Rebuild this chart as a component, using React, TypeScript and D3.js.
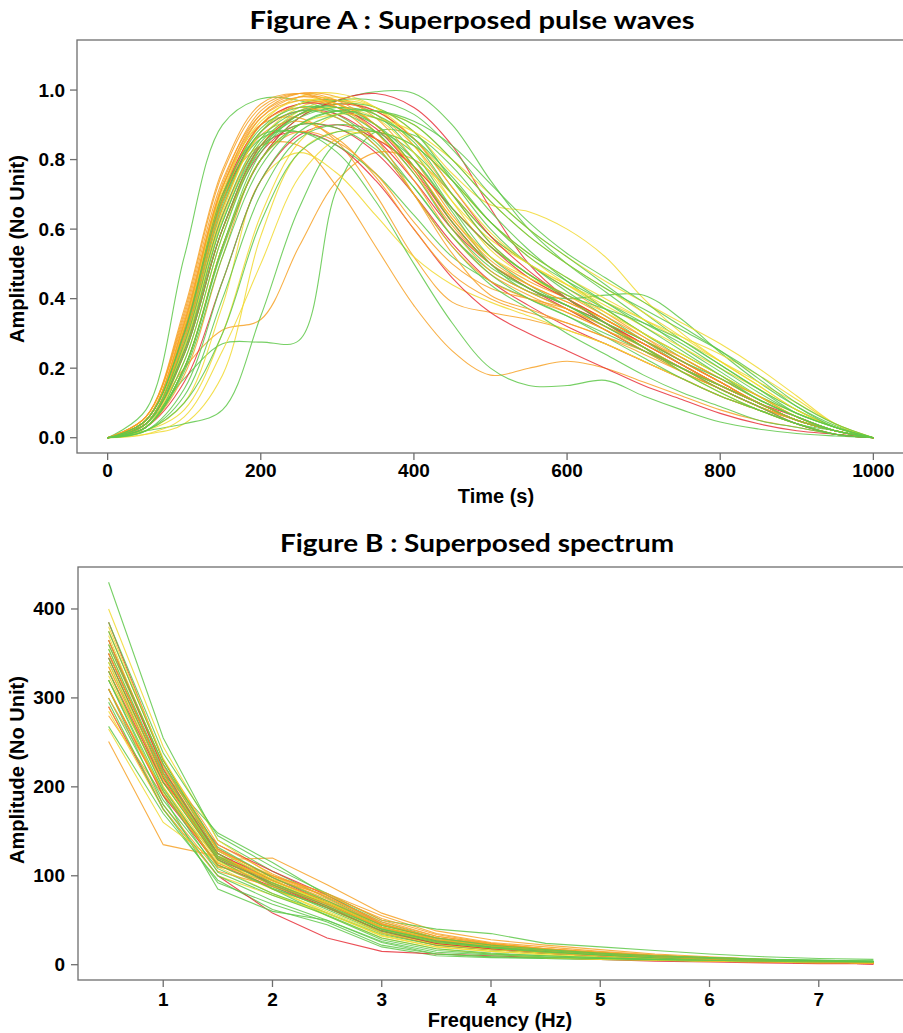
import React from 'react'
import * as d3 from 'd3'

// Figure A: pulse waves, sampled every 50 s
const pulseTime = [0, 50, 100, 150, 200, 250, 300, 350, 400, 450, 500, 550, 600, 650, 700, 750, 800, 850, 900, 950, 1000]

const greenPulses = [
  [0, 0.08, 0.52, 0.9, 0.975, 0.97, 0.93, 0.85, 0.72, 0.58, 0.48, 0.42, 0.37, 0.31, 0.25, 0.19, 0.14, 0.09, 0.05, 0.02, 0],
  [0, 0.03, 0.2, 0.55, 0.8, 0.92, 0.97, 0.995, 0.99, 0.9, 0.74, 0.6, 0.5, 0.42, 0.34, 0.26, 0.19, 0.12, 0.06, 0.02, 0],
  [0, 0.04, 0.17, 0.27, 0.275, 0.28, 0.72, 0.88, 0.87, 0.78, 0.65, 0.54, 0.45, 0.37, 0.3, 0.23, 0.17, 0.11, 0.06, 0.02, 0],
  [0, 0.02, 0.04, 0.08, 0.35, 0.66, 0.85, 0.88, 0.82, 0.7, 0.58, 0.5, 0.42, 0.35, 0.28, 0.21, 0.15, 0.1, 0.05, 0.02, 0],
  [0, 0.04, 0.26, 0.62, 0.85, 0.93, 0.94, 0.9, 0.8, 0.65, 0.5, 0.42, 0.4, 0.41, 0.41, 0.34, 0.245, 0.16, 0.09, 0.035, 0],
  [0, 0.05, 0.3, 0.68, 0.86, 0.88, 0.82, 0.68, 0.5, 0.33, 0.2, 0.15, 0.15, 0.165, 0.12, 0.08, 0.045, 0.025, 0.012, 0.005, 0],
  [0, 0.04, 0.28, 0.66, 0.88, 0.96, 0.97, 0.93, 0.82, 0.66, 0.52, 0.44, 0.38, 0.32, 0.26, 0.2, 0.15, 0.1, 0.05, 0.02, 0],
  [0, 0.03, 0.22, 0.58, 0.83, 0.93, 0.96, 0.95, 0.88, 0.74, 0.6, 0.5, 0.43, 0.37, 0.3, 0.24, 0.18, 0.12, 0.07, 0.03, 0],
  [0, 0.05, 0.3, 0.7, 0.87, 0.88, 0.84, 0.76, 0.64, 0.52, 0.45, 0.4, 0.35, 0.29, 0.23, 0.17, 0.12, 0.08, 0.04, 0.01, 0],
  [0, 0.03, 0.2, 0.55, 0.82, 0.93, 0.97, 0.97, 0.93, 0.83, 0.7, 0.6, 0.52, 0.44, 0.36, 0.28, 0.21, 0.14, 0.08, 0.03, 0],
  [0, 0.04, 0.25, 0.62, 0.84, 0.92, 0.95, 0.93, 0.85, 0.7, 0.56, 0.47, 0.41, 0.37, 0.33, 0.28, 0.21, 0.14, 0.07, 0.03, 0],
  [0, 0.02, 0.12, 0.4, 0.7, 0.86, 0.9, 0.88, 0.8, 0.66, 0.55, 0.47, 0.4, 0.33, 0.26, 0.19, 0.13, 0.08, 0.04, 0.01, 0],
  [0, 0.05, 0.29, 0.67, 0.88, 0.94, 0.92, 0.84, 0.7, 0.55, 0.44, 0.37, 0.3, 0.24, 0.18, 0.13, 0.09, 0.05, 0.03, 0.01, 0],
  [0, 0.03, 0.2, 0.54, 0.8, 0.9, 0.94, 0.94, 0.9, 0.8, 0.68, 0.58, 0.5, 0.43, 0.37, 0.31, 0.25, 0.18, 0.1, 0.04, 0],
  [0, 0.02, 0.1, 0.3, 0.62, 0.82, 0.88, 0.88, 0.84, 0.74, 0.62, 0.53, 0.46, 0.39, 0.32, 0.25, 0.18, 0.11, 0.06, 0.02, 0],
  [0, 0.04, 0.27, 0.64, 0.86, 0.94, 0.95, 0.9, 0.78, 0.62, 0.5, 0.43, 0.38, 0.33, 0.28, 0.22, 0.17, 0.11, 0.06, 0.02, 0],
  [0, 0.05, 0.3, 0.69, 0.89, 0.95, 0.94, 0.88, 0.76, 0.6, 0.49, 0.43, 0.38, 0.32, 0.26, 0.2, 0.15, 0.1, 0.05, 0.02, 0],
  [0, 0.03, 0.19, 0.52, 0.78, 0.9, 0.94, 0.92, 0.86, 0.75, 0.62, 0.52, 0.45, 0.39, 0.33, 0.27, 0.2, 0.13, 0.07, 0.03, 0],
  [0, 0.04, 0.24, 0.6, 0.83, 0.9, 0.89, 0.83, 0.72, 0.58, 0.47, 0.4, 0.35, 0.3, 0.25, 0.2, 0.14, 0.09, 0.04, 0.02, 0],
  [0, 0.02, 0.14, 0.45, 0.74, 0.88, 0.93, 0.94, 0.91, 0.84, 0.73, 0.62, 0.53, 0.46, 0.39, 0.32, 0.25, 0.17, 0.09, 0.03, 0],
]

const yellowPulses = [
  [0, 0.01, 0.04, 0.18, 0.58, 0.82, 0.88, 0.86, 0.78, 0.66, 0.55, 0.47, 0.4, 0.33, 0.26, 0.19, 0.13, 0.08, 0.04, 0.01, 0],
  [0, 0.03, 0.22, 0.58, 0.84, 0.94, 0.97, 0.95, 0.88, 0.76, 0.67, 0.65, 0.6, 0.52, 0.4, 0.3, 0.22, 0.15, 0.08, 0.03, 0],
  [0, 0.05, 0.3, 0.68, 0.9, 0.98, 0.99, 0.95, 0.84, 0.68, 0.54, 0.46, 0.4, 0.34, 0.28, 0.22, 0.16, 0.1, 0.05, 0.02, 0],
  [0, 0.02, 0.1, 0.38, 0.74, 0.82, 0.76, 0.64, 0.52, 0.44, 0.39, 0.35, 0.31, 0.27, 0.22, 0.17, 0.12, 0.08, 0.04, 0.01, 0],
  [0, 0.04, 0.26, 0.63, 0.86, 0.95, 0.97, 0.94, 0.86, 0.74, 0.62, 0.53, 0.46, 0.4, 0.34, 0.28, 0.22, 0.16, 0.1, 0.04, 0],
  [0, 0.01, 0.06, 0.25, 0.5, 0.75, 0.86, 0.88, 0.84, 0.74, 0.62, 0.52, 0.44, 0.37, 0.3, 0.24, 0.18, 0.12, 0.07, 0.03, 0],
  [0, 0.03, 0.24, 0.6, 0.84, 0.93, 0.95, 0.92, 0.82, 0.68, 0.57, 0.5, 0.44, 0.38, 0.32, 0.26, 0.2, 0.14, 0.08, 0.03, 0],
  [0, 0.03, 0.2, 0.55, 0.8, 0.9, 0.93, 0.92, 0.88, 0.8, 0.7, 0.6, 0.52, 0.45, 0.39, 0.33, 0.27, 0.2, 0.12, 0.04, 0],
  [0, 0.05, 0.32, 0.71, 0.91, 0.97, 0.96, 0.9, 0.78, 0.63, 0.52, 0.46, 0.41, 0.36, 0.3, 0.24, 0.18, 0.12, 0.06, 0.02, 0],
  [0, 0.02, 0.08, 0.3, 0.64, 0.85, 0.93, 0.94, 0.9, 0.8, 0.68, 0.58, 0.5, 0.43, 0.36, 0.29, 0.22, 0.15, 0.08, 0.03, 0],
  [0, 0.04, 0.27, 0.65, 0.88, 0.96, 0.98, 0.95, 0.86, 0.72, 0.59, 0.5, 0.44, 0.39, 0.34, 0.29, 0.24, 0.18, 0.11, 0.04, 0],
]

const orangePulses = [
  [0, 0.04, 0.2, 0.31, 0.34, 0.55, 0.74, 0.82, 0.8, 0.7, 0.58, 0.5, 0.43, 0.36, 0.29, 0.22, 0.16, 0.1, 0.05, 0.02, 0],
  [0, 0.05, 0.32, 0.7, 0.84, 0.84, 0.72, 0.55, 0.38, 0.25, 0.18, 0.2, 0.22, 0.2, 0.16, 0.12, 0.08, 0.05, 0.03, 0.01, 0],
  [0, 0.06, 0.34, 0.72, 0.9, 0.92, 0.85, 0.7, 0.52, 0.39, 0.36, 0.34, 0.31, 0.27, 0.22, 0.17, 0.12, 0.08, 0.04, 0.01, 0],
  [0, 0.05, 0.32, 0.72, 0.93, 0.99, 0.98, 0.92, 0.8, 0.64, 0.52, 0.45, 0.4, 0.34, 0.28, 0.22, 0.16, 0.1, 0.05, 0.02, 0],
  [0, 0.06, 0.36, 0.76, 0.95, 0.99, 0.96, 0.88, 0.74, 0.58, 0.47, 0.41, 0.36, 0.31, 0.25, 0.19, 0.14, 0.09, 0.05, 0.02, 0],
  [0, 0.05, 0.3, 0.69, 0.9, 0.96, 0.96, 0.9, 0.78, 0.62, 0.5, 0.43, 0.38, 0.33, 0.27, 0.21, 0.15, 0.1, 0.05, 0.02, 0],
  [0, 0.04, 0.28, 0.66, 0.87, 0.91, 0.86, 0.75, 0.6, 0.47, 0.4, 0.36, 0.33, 0.29, 0.24, 0.19, 0.14, 0.09, 0.05, 0.02, 0],
  [0, 0.05, 0.31, 0.7, 0.92, 0.98, 0.97, 0.93, 0.84, 0.7, 0.56, 0.47, 0.41, 0.35, 0.29, 0.23, 0.17, 0.11, 0.06, 0.02, 0],
  [0, 0.03, 0.18, 0.52, 0.8, 0.88, 0.85, 0.76, 0.62, 0.5, 0.43, 0.4, 0.37, 0.32, 0.26, 0.2, 0.14, 0.09, 0.05, 0.02, 0],
  [0, 0.05, 0.33, 0.72, 0.92, 0.97, 0.95, 0.88, 0.76, 0.61, 0.5, 0.44, 0.39, 0.34, 0.28, 0.23, 0.17, 0.12, 0.06, 0.02, 0],
  [0, 0.06, 0.35, 0.74, 0.93, 0.98, 0.96, 0.9, 0.78, 0.63, 0.51, 0.44, 0.39, 0.34, 0.28, 0.22, 0.16, 0.1, 0.05, 0.02, 0],
  [0, 0.05, 0.33, 0.73, 0.94, 0.99, 0.97, 0.9, 0.77, 0.6, 0.48, 0.42, 0.37, 0.32, 0.27, 0.21, 0.15, 0.1, 0.05, 0.02, 0],
  [0, 0.04, 0.29, 0.68, 0.9, 0.95, 0.92, 0.84, 0.7, 0.55, 0.45, 0.4, 0.36, 0.31, 0.26, 0.2, 0.15, 0.1, 0.05, 0.02, 0],
  [0, 0.06, 0.37, 0.77, 0.96, 0.99, 0.95, 0.86, 0.7, 0.53, 0.41, 0.37, 0.33, 0.29, 0.25, 0.2, 0.15, 0.1, 0.05, 0.02, 0],
]

const redPulses = [
  [0, 0.04, 0.25, 0.6, 0.82, 0.9, 0.89, 0.82, 0.7, 0.56, 0.45, 0.38, 0.32, 0.27, 0.22, 0.17, 0.12, 0.08, 0.04, 0.01, 0],
  [0, 0.03, 0.2, 0.55, 0.8, 0.92, 0.97, 0.99, 0.95, 0.84, 0.66, 0.5, 0.4, 0.33, 0.27, 0.21, 0.15, 0.1, 0.05, 0.02, 0],
  [0, 0.05, 0.3, 0.68, 0.88, 0.94, 0.93, 0.86, 0.74, 0.6, 0.5, 0.43, 0.37, 0.31, 0.25, 0.2, 0.15, 0.1, 0.06, 0.02, 0],
  [0, 0.04, 0.27, 0.64, 0.84, 0.88, 0.84, 0.74, 0.6, 0.46, 0.36, 0.3, 0.25, 0.2, 0.15, 0.11, 0.07, 0.04, 0.02, 0.01, 0],
  [0, 0.03, 0.16, 0.45, 0.74, 0.87, 0.9, 0.86, 0.78, 0.66, 0.55, 0.46, 0.4, 0.34, 0.28, 0.22, 0.16, 0.1, 0.05, 0.02, 0],
  [0, 0.05, 0.31, 0.7, 0.9, 0.96, 0.95, 0.89, 0.77, 0.62, 0.5, 0.43, 0.38, 0.33, 0.27, 0.21, 0.15, 0.1, 0.05, 0.02, 0],
  [0, 0.04, 0.24, 0.6, 0.84, 0.93, 0.96, 0.94, 0.86, 0.72, 0.58, 0.48, 0.4, 0.33, 0.26, 0.2, 0.14, 0.09, 0.04, 0.01, 0],
]

// Figure B: spectra at 0.5 Hz steps
const specFreq = [0.5, 1, 1.5, 2, 2.5, 3, 3.5, 4, 4.5, 5, 5.5, 6, 6.5, 7, 7.5]

const greenSpectra = [
  [430, 255, 140, 105, 75, 45, 30, 22, 17, 13, 10, 8, 6, 5, 4],
  [268, 170, 95, 62, 45, 20, 10, 8, 7, 6, 5, 4, 4, 3, 3],
  [385, 238, 145, 110, 80, 50, 40, 35, 24, 20, 16, 12, 9, 7, 6],
  [320, 190, 85, 60, 50, 25, 12, 9, 7, 6, 5, 4, 4, 3, 3],
  [350, 215, 148, 115, 78, 48, 30, 22, 17, 13, 10, 8, 6, 5, 4],
  [300, 185, 108, 80, 58, 34, 22, 17, 13, 10, 8, 6, 5, 4, 3],
  [365, 225, 125, 88, 62, 36, 24, 18, 14, 11, 8, 6, 5, 4, 3],
  [340, 205, 118, 85, 55, 28, 16, 12, 10, 8, 6, 5, 4, 3, 3],
  [375, 230, 128, 95, 70, 42, 28, 20, 16, 12, 9, 7, 5, 4, 3],
  [310, 180, 100, 72, 50, 26, 14, 11, 9, 7, 6, 5, 4, 3, 3],
  [355, 218, 122, 92, 68, 40, 26, 19, 15, 11, 8, 6, 5, 4, 3],
  [330, 198, 112, 86, 64, 38, 25, 19, 14, 11, 8, 6, 5, 4, 3],
  [295, 175, 92, 68, 48, 22, 12, 9, 8, 7, 6, 5, 4, 4, 3],
  [345, 212, 120, 90, 66, 40, 27, 20, 16, 12, 9, 7, 5, 4, 3],
  [320, 195, 104, 78, 56, 30, 18, 13, 10, 8, 6, 5, 4, 3, 3],
  [360, 226, 132, 98, 72, 44, 30, 22, 17, 13, 10, 8, 6, 5, 4],
]

const yellowSpectra = [
  [400, 245, 140, 100, 72, 42, 27, 20, 15, 11, 8, 6, 4, 3, 2],
  [265, 160, 115, 85, 60, 35, 22, 17, 13, 10, 7, 5, 4, 3, 2],
  [335, 205, 120, 90, 66, 38, 24, 18, 14, 11, 8, 6, 4, 3, 2],
  [355, 215, 118, 86, 58, 32, 20, 15, 12, 9, 7, 5, 4, 3, 2],
  [310, 195, 110, 80, 55, 30, 18, 12, 8, 6, 5, 4, 3, 2, 2],
  [370, 220, 125, 92, 70, 44, 28, 21, 16, 12, 9, 6, 4, 3, 2],
  [325, 200, 116, 90, 64, 36, 23, 17, 13, 10, 7, 5, 4, 3, 2],
  [285, 175, 100, 78, 58, 33, 20, 15, 11, 8, 6, 4, 3, 2, 2],
  [340, 212, 122, 94, 70, 42, 28, 21, 16, 12, 9, 6, 4, 3, 2],
  [380, 232, 128, 96, 68, 40, 25, 19, 14, 10, 7, 5, 4, 3, 2],
]

const orangeSpectra = [
  [251, 135, 122, 100, 80, 55, 35, 25, 20, 15, 11, 8, 6, 4, 3],
  [320, 205, 118, 120, 90, 58, 38, 28, 22, 17, 12, 9, 6, 4, 2],
  [280, 190, 120, 95, 70, 42, 28, 22, 18, 14, 10, 7, 5, 3, 2],
  [345, 210, 125, 92, 68, 40, 26, 20, 16, 12, 9, 6, 4, 3, 2],
  [360, 222, 130, 98, 74, 44, 30, 22, 17, 13, 9, 7, 5, 3, 2],
  [300, 195, 112, 85, 65, 38, 25, 19, 15, 11, 8, 6, 4, 3, 2],
  [330, 200, 110, 100, 80, 50, 32, 24, 18, 14, 10, 7, 5, 3, 2],
  [375, 230, 135, 102, 76, 46, 30, 23, 18, 13, 10, 7, 5, 3, 2],
  [290, 180, 105, 88, 70, 45, 30, 22, 17, 13, 9, 7, 5, 3, 2],
  [350, 215, 122, 96, 78, 52, 34, 24, 18, 13, 9, 7, 5, 3, 2],
  [335, 208, 120, 94, 72, 46, 30, 22, 17, 13, 10, 7, 5, 3, 2],
  [365, 225, 128, 100, 76, 48, 32, 23, 17, 13, 9, 7, 5, 3, 2],
  [310, 192, 114, 90, 68, 42, 28, 21, 16, 12, 9, 6, 4, 3, 2],
]

const redSpectra = [
  [385, 230, 130, 98, 70, 40, 25, 19, 15, 11, 8, 6, 4, 2, 1],
  [290, 175, 100, 58, 30, 15, 12, 10, 8, 6, 4, 3, 2, 1, 1],
  [330, 205, 135, 105, 78, 46, 28, 20, 15, 11, 8, 5, 3, 2, 1],
  [345, 210, 118, 92, 66, 36, 22, 17, 13, 10, 7, 5, 3, 2, 1],
  [310, 190, 112, 88, 64, 38, 24, 18, 13, 10, 7, 4, 3, 2, 1],
  [350, 215, 125, 95, 70, 42, 27, 20, 15, 11, 8, 6, 4, 2, 1],
  [365, 220, 122, 90, 64, 38, 24, 18, 14, 10, 7, 5, 3, 2, 1],
]

const pulseTicksX = [0, 200, 400, 600, 800, 1000]
const pulseTicksY = [0, 0.2, 0.4, 0.6, 0.8, 1.0]
const specTicksX = [1, 2, 3, 4, 5, 6, 7]
const specTicksY = [0, 100, 200, 300, 400]

const colors = { green: '#5fc84a', yellow: '#f1d930', orange: '#f7a227', red: '#e8303a' }

// round-robin so the colours overlap like in the original plot
function mix(groups: [string, number[][]][]) {
  const out: { color: string; values: number[] }[] = []
  const n = d3.max(groups, g => g[1].length) || 0
  for (let i = 0; i < n; i++) {
    groups.forEach(([c, arr]) => { if (arr[i]) out.push({ color: c, values: arr[i] }) })
  }
  return out
}

const AXIS = '#6e6e6e'
const tickFont = { fontFamily: '"Liberation Sans", Arial, sans-serif', fontWeight: 700 as const }

function Panel({ x, y, xs, lines, curve, xTicks, yTicks, yFmt, title, titleX, titleY, titleLen, xLabel, xLabelX, xLabelY, yLabelY, xTickY }: any) {
  const [x0, x1] = x.range()
  const [y0, y1] = y.range()
  const line = d3.line<[number, number]>().x(d => x(d[0])).y(d => y(d[1])).curve(curve)
  return (
    <g>
      <text x={titleX} y={titleY} textAnchor="middle" fontFamily="Lato, 'Open Sans', sans-serif" fontWeight={700} fontSize={25}
        textLength={titleLen} lengthAdjust="spacingAndGlyphs" fill="#000">{title}</text>
      <g fill="none" strokeWidth={1.1} strokeOpacity={0.85}>
        {lines.map((l: any, i: number) => (
          <path key={i} d={line(xs.map((v: number, j: number) => [v, l.values[j]]) as any) || ''} stroke={l.color} />
        ))}
      </g>
      <rect x={x0} y={y1} width={x1 - x0} height={y0 - y1} fill="none" stroke={AXIS} strokeWidth={1.3} />
      {xTicks.map((t: number) => (
        <g key={'x' + t}>
          <line x1={x(t)} x2={x(t)} y1={y0} y2={y0 + 7} stroke={AXIS} strokeWidth={1.3} />
          <text x={x(t)} y={xTickY} textAnchor="middle" fontSize={19} {...tickFont}>{t}</text>
        </g>
      ))}
      {yTicks.map((t: number) => (
        <g key={'y' + t}>
          <line x1={x0} x2={x0 - 7} y1={y(t)} y2={y(t)} stroke={AXIS} strokeWidth={1.3} />
          <text x={65} y={y(t) + 6.5} textAnchor="end" fontSize={19} {...tickFont}>{yFmt(t)}</text>
        </g>
      ))}
      <text x={xLabelX} y={xLabelY} textAnchor="middle" fontSize={20} {...tickFont}>{xLabel}</text>
      <text transform={`translate(24,${yLabelY}) rotate(-90)`} textAnchor="middle" fontSize={20} {...tickFont}>Amplitude (No Unit)</text>
    </g>
  )
}

export default function App() {
  const xA = d3.scaleLinear().domain([-40, 1040]).range([77, 904])
  const yA = d3.scaleLinear().domain([-0.044, 1.144]).range([453, 40])
  const xB = d3.scaleLinear().domain([0.22, 7.78]).range([78, 904])
  const yB = d3.scaleLinear().domain([-17.2, 447.2]).range([980, 567])

  const pulses = mix([[colors.green, greenPulses], [colors.orange, orangePulses], [colors.yellow, yellowPulses], [colors.red, redPulses]])
  const spectra = mix([[colors.green, greenSpectra], [colors.orange, orangeSpectra], [colors.yellow, yellowSpectra], [colors.red, redSpectra]])

  return (
    <svg width={903} height={1033} style={{ position: 'absolute', left: 0, top: 0, background: '#fff' }}>
      <Panel x={xA} y={yA} xs={pulseTime} lines={pulses} curve={d3.curveCatmullRom.alpha(0.5)}
        xTicks={pulseTicksX} yTicks={pulseTicksY} yFmt={(t: number) => t.toFixed(1)}
        title="Figure A : Superposed pulse waves" titleX={472} titleY={29} titleLen={445}
        xLabel="Time (s)" xLabelX={496} xLabelY={503} yLabelY={249} xTickY={477} />
      <Panel x={xB} y={yB} xs={specFreq} lines={spectra} curve={d3.curveLinear}
        xTicks={specTicksX} yTicks={specTicksY} yFmt={(t: number) => String(t)}
        title="Figure B : Superposed spectrum" titleX={477} titleY={552} titleLen={394}
        xLabel="Frequency (Hz)" xLabelX={500} xLabelY={1027} yLabelY={770} xTickY={1006} />
    </svg>
  )
}
